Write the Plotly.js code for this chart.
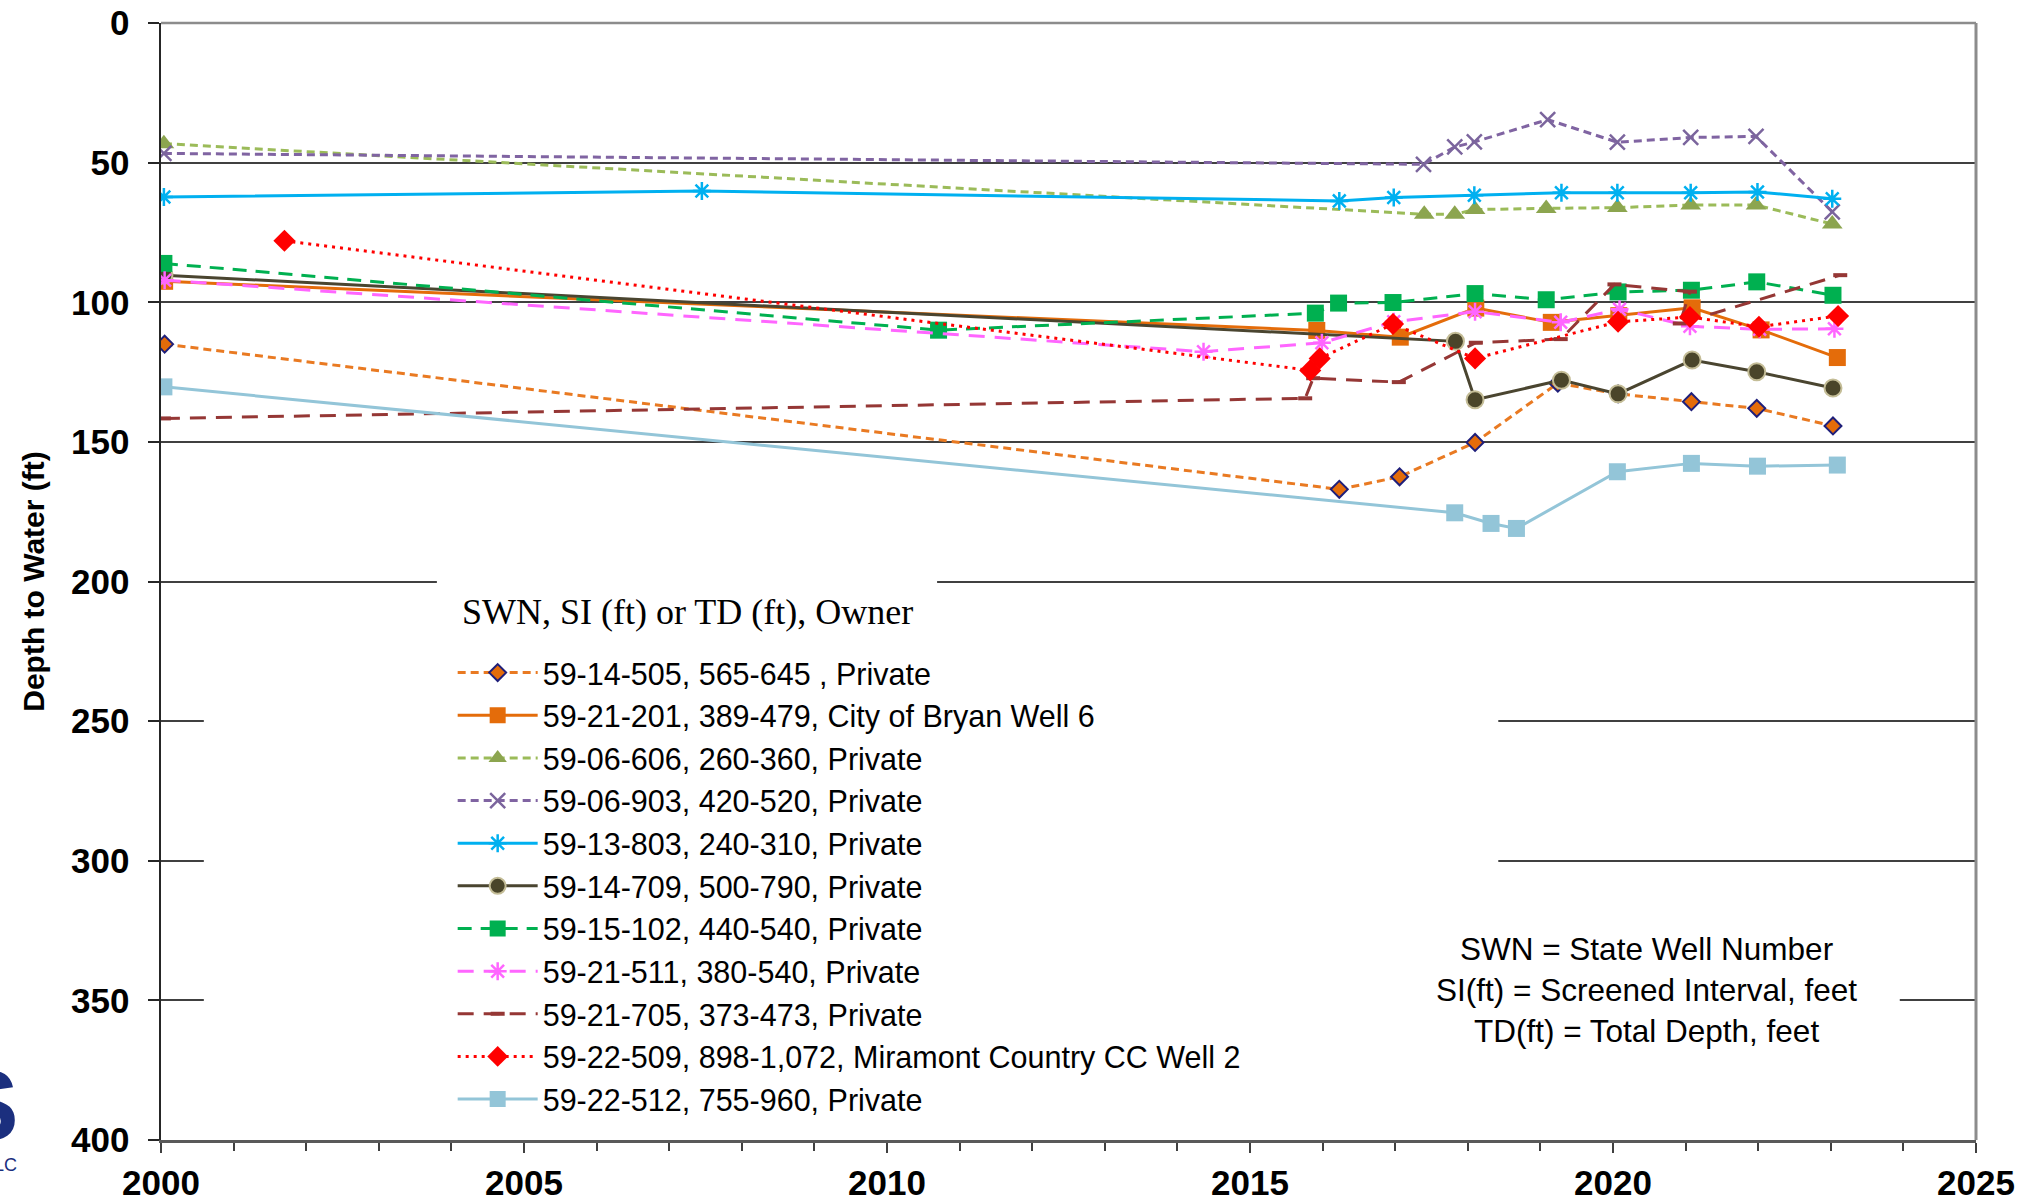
<!DOCTYPE html>
<html>
<head>
<meta charset="utf-8">
<script src="https://cdn.plot.ly/plotly-3.0.1.min.js"></script>
<style>
  html, body { margin: 0; padding: 0; background: #ffffff; }
  #chart { width: 2029px; height: 1199px; }
</style>
</head>
<body>
<div id="chart"></div>
<script>
// ---- Data (decimal year, depth to water in ft) ----
const names = [
  "59-14-505, 565-645 , Private",
  "59-21-201, 389-479, City of Bryan Well 6",
  "59-06-606, 260-360, Private",
  "59-06-903, 420-520, Private",
  "59-13-803, 240-310, Private",
  "59-14-709, 500-790, Private",
  "59-15-102, 440-540, Private",
  "59-21-511, 380-540, Private",
  "59-21-705, 373-473, Private",
  "59-22-509, 898-1,072, Miramont Country CC Well 2",
  "59-22-512, 755-960, Private"
];

const x_1414505 = [2000.05, 2016.23, 2017.06, 2018.10, 2019.24, 2020.07, 2021.08, 2021.98, 2023.03];
const y_1414505 = [115.0, 167.0, 162.5, 150.2, 129.0, 132.8, 135.6, 138.0, 144.3];

const x_2121201 = [2000.05, 2015.92, 2017.07, 2018.11, 2019.15, 2020.08, 2021.09, 2022.04, 2023.09];
const y_2121201 = [92.5, 110.1, 112.5, 102.1, 107.2, 104.8, 102.0, 109.9, 119.8];

const x_0606606 = [2000.04, 2017.40, 2017.82, 2018.10, 2019.08, 2020.06, 2021.07, 2021.97, 2023.02];
const y_0606606 = [43.2, 68.5, 68.5, 66.8, 66.4, 66.1, 65.2, 65.2, 72.0];

const x_0606903 = [2000.04, 2017.39, 2017.82, 2018.09, 2019.10, 2020.06, 2021.07, 2021.97, 2023.02];
const y_0606903 = [46.7, 50.6, 44.4, 42.6, 34.6, 42.7, 41.0, 40.6, 67.6];

const x_1313803 = [2000.04, 2007.45, 2016.23, 2016.98, 2018.09, 2019.29, 2020.06, 2021.07, 2021.99, 2023.02];
const y_1313803 = [62.3, 60.2, 63.7, 62.5, 61.7, 60.8, 60.8, 60.8, 60.5, 62.9];

const x_1414709 = [2000.04, 2017.83, 2018.10, 2019.29, 2020.07, 2021.09, 2021.98, 2023.03];
const y_1414709 = [90.3, 114.0, 134.9, 127.9, 132.8, 120.7, 124.9, 130.7];

const x_1515102 = [2000.04, 2010.71, 2015.90, 2016.22, 2016.97, 2018.10, 2019.08, 2020.07, 2021.08, 2021.98, 2023.03];
const y_1515102 = [86.1, 110.0, 103.9, 100.3, 100.1, 96.9, 99.1, 96.3, 95.7, 92.7, 97.5];

const x_2121511 = [2000.05, 2014.36, 2015.99, 2016.98, 2018.10, 2019.28, 2020.09, 2021.06, 2022.02, 2023.05];
const y_2121511 = [92.1, 117.7, 114.5, 107.0, 103.4, 107.2, 102.5, 108.6, 109.7, 109.5];

const x_2121705 = [2000.04, 2015.76, 2015.87, 2017.05, 2018.11, 2019.28, 2020.02, 2021.06, 2020.92, 2023.13];
const y_2121705 = [141.6, 134.4, 127.2, 128.6, 114.5, 113.2, 93.6, 96.2, 107.6, 90.3];

const x_2222509 = [2001.70, 2015.83, 2015.96, 2016.97, 2018.10, 2020.07, 2021.06, 2022.01, 2023.10];
const y_2222509 = [78.0, 124.4, 120.1, 107.8, 120.1, 107.0, 105.3, 108.8, 104.9];

const x_2222512 = [2000.04, 2017.82, 2018.32, 2018.67, 2020.06, 2021.08, 2021.99, 2023.09];
const y_2222512 = [130.3, 175.4, 179.2, 181.0, 160.7, 157.7, 158.7, 158.3];

const xTickVals = [2000, 2005, 2010, 2015, 2020, 2025];
const yTickVals = [0, 50, 100, 150, 200, 250, 300, 350, 400];

const legendTitle = "SWN, SI (ft) or TD (ft), Owner";
const noteText = "SWN = State Well Number<br>SI(ft) = Screened Interval, feet<br>TD(ft) = Total Depth, feet";
const yTitle = "Depth to Water (ft)";

// ---- Styles ----
function tr(i, xs, ys, line, marker) {
  return {
    type: 'scatter', mode: 'lines+markers', name: names[i],
    x: xs, y: ys, line: line, marker: marker,
    hoverinfo: 'x+y+name'
  };
}

const traces = [
  tr(0, x_1414505, y_1414505, {color: '#E97A22', width: 3, dash: '8px,5px'},
     {symbol: 'diamond', size: 13, color: '#E46C0A', line: {color: '#1F1F7A', width: 2}}),
  tr(1, x_2121201, y_2121201, {color: '#E46C0A', width: 3},
     {symbol: 'square', size: 17, color: '#E46C0A'}),
  tr(2, x_0606606, y_0606606, {color: '#9BBB59', width: 3, dash: '8px,5px'},
     {symbol: 'triangle-up', size: 18, color: '#8CA54F'}),
  tr(3, x_0606903, y_0606903, {color: '#8064A2', width: 3, dash: '8px,5px'},
     {symbol: 'x-thin-open', size: 15, color: '#7B659D', line: {color: '#7B659D', width: 2.5}}),
  tr(4, x_1313803, y_1313803, {color: '#00B0F0', width: 3},
     {symbol: 'asterisk-open', size: 15, color: '#00B0F0', line: {color: '#00B0F0', width: 2.5}}),
  tr(5, x_1414709, y_1414709, {color: '#4A4530', width: 3},
     {symbol: 'circle', size: 17, color: '#4A452A', line: {color: '#C4BD97', width: 2}}),
  tr(6, x_1515102, y_1515102, {color: '#00B050', width: 3, dash: '14px,9px'},
     {symbol: 'square', size: 17, color: '#00B050'}),
  tr(7, x_2121511, y_2121511, {color: '#FF66FF', width: 3, dash: '16px,10px'},
     {symbol: 'asterisk-open', size: 15, color: '#FF66FF', line: {color: '#FF66FF', width: 2.5}}),
  tr(8, x_2121705, y_2121705, {color: '#953735', width: 3, dash: '16px,10px'},
     {symbol: 'line-ew-open', size: 10, color: '#953735', line: {color: '#953735', width: 4}}),
  tr(9, x_2222509, y_2222509, {color: '#FF0000', width: 3, dash: '3px,5px'},
     {symbol: 'diamond', size: 17, color: '#FF0000'}),
  tr(10, x_2222512, y_2222512, {color: '#93C5D8', width: 3},
     {symbol: 'square', size: 17, color: '#93C5D8'})
];

const FONT = 'Liberation Sans, Arial, sans-serif';

const layout = {
  width: 2029, height: 1199,
  margin: {l: 161, r: 53, t: 23, b: 59, pad: 0},
  paper_bgcolor: '#ffffff', plot_bgcolor: '#ffffff',
  showlegend: true,
  font: {family: FONT, color: '#000000'},
  xaxis: {
    type: 'linear', range: [2000, 2025],
    tickmode: 'array', tickvals: xTickVals, ticktext: xTickVals.map(String),
    ticks: 'outside', ticklen: 10, tickwidth: 2, tickcolor: '#404040',
    minor: {dtick: 1, ticks: 'outside', ticklen: 8, tickwidth: 2, tickcolor: '#404040', showgrid: false},
    tickfont: {family: FONT, size: 35, color: '#000000', weight: 'bold'},
    ticklabelstandoff: 0,
    showgrid: false, zeroline: false,
    showline: true, linecolor: '#595959', linewidth: 3
  },
  yaxis: {
    range: [400, 0],
    tickmode: 'array', tickvals: yTickVals, ticktext: yTickVals.map(String),
    ticks: 'outside', ticklen: 11, tickwidth: 2, tickcolor: '#262626',
    tickfont: {family: FONT, size: 35, color: '#000000', weight: 'bold'},
    ticklabelstandoff: 11,
    showgrid: true, gridcolor: '#404040', gridwidth: 2,
    zeroline: false,
    showline: true, linecolor: '#262626', linewidth: 2.5,
    title: {text: yTitle, font: {family: FONT, size: 30, color: '#000000', weight: 'bold'}, standoff: 18}
  },
  legend: {
    x: 0.1607, xanchor: 'left', y: 0.442, yanchor: 'top',
    bgcolor: 'rgba(0,0,0,0)', borderwidth: 0,
    font: {family: FONT, size: 30.5, color: '#000000'},
    itemwidth: 80, traceorder: 'normal'
  },
  shapes: [
    // white backing of legend title box (hides gridline)
    {type: 'rect', xref: 'x', yref: 'y', x0: 2003.8, x1: 2010.69, y0: 195, y1: 232,
     fillcolor: '#ffffff', line: {width: 0}, layer: 'above'},
    // white backing of legend box
    {type: 'rect', xref: 'x', yref: 'y', x0: 2000.59, x1: 2018.42, y0: 232, y1: 398,
     fillcolor: '#ffffff', line: {width: 0}, layer: 'above'},
    // white backing of note box
    {type: 'rect', xref: 'x', yref: 'y', x0: 2018.42, x1: 2023.95, y0: 318, y1: 385,
     fillcolor: '#ffffff', line: {width: 0}, layer: 'above'},
    // top and right frame
    {type: 'line', xref: 'paper', yref: 'paper', x0: 0, x1: 1, y0: 1, y1: 1,
     line: {color: '#8c8c8c', width: 2.5}, layer: 'above'},
    {type: 'line', xref: 'paper', yref: 'paper', x0: 1, x1: 1, y0: 0, y1: 1,
     line: {color: '#8c8c8c', width: 3}, layer: 'above'}
  ],
  annotations: [
    // legend title
    {xref: 'paper', yref: 'paper', x: (460 - 161) / 1815, y: 1 - (612 - 23) / 1117,
     xanchor: 'left', yanchor: 'middle', text: legendTitle, showarrow: false,
     font: {family: 'Liberation Serif, Times New Roman, serif', size: 36, color: '#000000'}},
    {xref: 'paper', yref: 'paper', x: 0.8187, y: 0.1343, xanchor: 'center', yanchor: 'middle',
     text: noteText, showarrow: false, align: 'center',
     font: {family: FONT, size: 31.5, color: '#000000'}},
    {xref: 'paper', yref: 'paper', x: -0.0771, y: 0.0313, xanchor: 'right', yanchor: 'middle',
     text: 'S', showarrow: false,
     font: {family: FONT, size: 100, color: '#1B2F7E', weight: 'bold'}},
    {xref: 'paper', yref: 'paper', x: -0.0785, y: -0.0226, xanchor: 'right', yanchor: 'middle',
     text: 'LC', showarrow: false,
     font: {family: FONT, size: 18, color: '#1B2F7E'}}
  ]
};

Plotly.newPlot('chart', traces, layout, {displayModeBar: false, staticPlot: true});
</script>
</body>
</html>
